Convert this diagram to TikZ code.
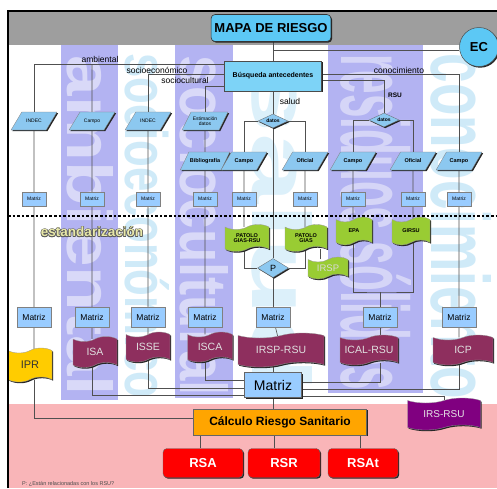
\documentclass[tikz,border=0pt]{standalone}
\usepackage{fontspec}
\setmainfont{Liberation Sans}
\usetikzlibrary{shapes.geometric,shapes.symbols,shadows}
\pgfdeclarelayer{bg}
\pgfdeclarelayer{mid}
\pgfsetlayers{bg,mid,main}
\definecolor{hdrgray}{HTML}{9E9E9E}
\definecolor{lav}{HTML}{B3B3F2}
\definecolor{pinkbg}{HTML}{F9B5B8}
\definecolor{boxblue}{HTML}{99CCFF}
\definecolor{titleblue}{HTML}{5CC8F5}
\definecolor{parblue}{HTML}{8CC8F0}
\definecolor{lime}{HTML}{99CC33}
\definecolor{maroon}{HTML}{8E2F5E}
\definecolor{purp}{HTML}{800080}
\definecolor{gold}{HTML}{FFCC00}
\definecolor{orng}{HTML}{FFA500}
\definecolor{wmblue}{HTML}{A8DAF4}
\definecolor{linec}{HTML}{505050}
\definecolor{palegold}{HTML}{E8E8A8}
\newcommand{\fs}[1]{\fontsize{#1}{#1}\selectfont}
\begin{document}
\begin{tikzpicture}[x=1pt,y=-1pt,
  shad/.style={drop shadow={shadow xshift=1.2pt,shadow yshift=-1.2pt,fill=black!85,opacity=1}},
  conn/.style={draw=linec, line width=0.6pt},
  parbox/.style={trapezium, trapezium left angle=62, trapezium right angle=118, trapezium stretches=true, fill=parblue, draw=black!50, line width=0.3pt, minimum height=18pt, minimum width=46pt, inner xsep=1pt, inner ysep=5.5pt, align=center, font=\fs{5}, shad},
  parboxb/.style={parbox, font=\bfseries\fs{5.5}},
  smx/.style={rectangle, fill=boxblue, draw=black!50, line width=0.3pt, minimum width=24pt, minimum height=14pt, inner sep=0pt, font=\fs{5}, shad},
  mdx/.style={smx, minimum width=34pt, minimum height=20pt, font=\fs{8.5}},
  dia/.style={diamond, aspect=2, fill=parblue, draw=black!60, line width=0.3pt, inner sep=0pt, minimum width=30pt, minimum height=14pt, font=\bfseries\fs{5}, shad},
  flag/.style={tape, draw=black!40, line width=0.3pt, inner sep=1pt, align=center, shad},
  grn/.style={flag, fill=lime, font=\bfseries\fs{5.5}},
  mar/.style={flag, fill=maroon, text=white!88!black, font=\fs{10.5}},
  lbl/.style={font=\fs{8.5}, inner sep=0pt},
  redbox/.style={rectangle, rounded corners=4pt, fill=red, draw=black!60, text=white, font=\bfseries\fs{13}, minimum height=29pt, shad},
  wm/.style={rotate=-90, inner sep=0pt}
]
\useasboundingbox (0,0) rectangle (497,488);

% ---------- background ----------
\begin{pgfonlayer}{bg}
\fill[white] (0,0) rectangle (497,488);
\fill[hdrgray] (8,11) rectangle (497,45);
\fill[lav] (61,45) rectangle (118,400);
\fill[lav] (175,45) rectangle (233,398);
\fill[lav] (328,45) rectangle (423,393);
\fill[pinkbg] (8,404) rectangle (497,488);
\node[wm, text=white, opacity=0.5] (wamb) at (90,226) {\resizebox{340pt}{46pt}{\bfseries ambiental}};
\node[wm, text=wmblue, opacity=0.55] (wsoc) at (147,226) {\resizebox{345pt}{44pt}{\bfseries socioeconómico}};
\node[wm, text=white, opacity=0.5] (wscu) at (204,226) {\resizebox{340pt}{48pt}{\bfseries sociocultural}};
\node[wm, text=wmblue, opacity=0.4] (wsal) at (282,228) {\resizebox{330pt}{60pt}{\bfseries salud}};
\node[wm, text=white, opacity=0.45] (wres) at (376,222) {\resizebox{335pt}{70pt}{\bfseries residuos sólidos}};
\node[wm, text=wmblue, opacity=0.55] (wcon) at (461,226) {\resizebox{345pt}{60pt}{\bfseries conocimiento}};
\end{pgfonlayer}

% ---------- header ----------
\node[rectangle, rounded corners=4pt, fill=titleblue, draw=black!80, line width=0.6pt, minimum width=114pt, minimum height=27pt, font=\bfseries\fs{13}, shad] (MAPA) at (271,28) {MAPA DE RIESGO};
\node[circle, fill=titleblue, draw=black!70, line width=0.5pt, minimum size=39pt, inner sep=0pt, font=\bfseries\fs{13}, shad] (EC) at (479,47) {EC};
\node[rectangle, fill=titleblue!80!white, draw=black!70, line width=0.5pt, minimum width=97pt, minimum height=30pt, font=\bfseries\fs{7}, shad] (BUS) at (273,76) {Búsqueda antecedentes};

% ---------- labels ----------
\node[lbl] (lamb) at (100,59) {ambiental};
\node[lbl] (lsoc) at (157,70) {socioeconómico};
\node[lbl] (lscu) at (185,80) {sociocultural};
\node[lbl] (lsal) at (290,101) {salud};
\node[lbl] (lcon) at (399,70) {conocimiento};
\node[lbl, font=\bfseries\fs{6.5}] (lrsu) at (395,95) {RSU};

% ---------- parallelograms ----------
\node[parbox] (p1) at (34,121) {INDEC};
\node[parbox] (p2) at (92,121) {Campo};
\node[parbox] (p3) at (148,121) {INDEC};
\node[parbox, inner ysep=3.5pt] (p4) at (205,121) {Estimación\\datos};
\node[parboxb] (bib) at (205,161) {Bibliografía};
\node[parboxb] (cS) at (244,161) {Campo};
\node[parboxb] (oS) at (305,161) {Oficial};
\node[parboxb] (cR) at (353,161) {Campo};
\node[parboxb] (oR) at (413,161) {Oficial};
\node[parboxb] (cC) at (459,161) {Campo};

% ---------- diamonds ----------
\node[dia] (dS) at (273,121) {datos};
\node[dia] (dR) at (384,120) {datos};
\node[dia, minimum width=31pt, minimum height=19pt, font=\fs{9}] (P) at (273,268) {P};

% ---------- small Matriz ----------
\node[smx] (m1) at (34,199) {Matriz};
\node[smx] (m2) at (92,199) {Matriz};
\node[smx] (m3) at (148,199) {Matriz};
\node[smx] (m4) at (205,199) {Matriz};
\node[smx] (m5) at (244,199) {Matriz};
\node[smx] (m6) at (305,199) {Matriz};
\node[smx] (m7) at (353,199) {Matriz};
\node[smx] (m8) at (413,199) {Matriz};
\node[smx] (m9) at (459,199) {Matriz};

% ---------- green flags ----------
\node[grn, minimum width=44pt, minimum height=27pt] (patR) at (247,238) {PATOLO\\GIAS-RSU};
\node[grn, minimum width=42pt, minimum height=27pt] (pat) at (306,238) {PATOLO\\GIAS};
\node[grn, minimum width=36pt, minimum height=28pt] (epa) at (354,231) {EPA};
\node[grn, minimum width=38pt, minimum height=28pt] (girsu) at (411,231) {GIRSU};
\node[flag, fill=lime, minimum width=40pt, minimum height=22pt, font=\fs{9.5}, text=black!15] (irsp) at (328,268) {IRSP};

% ---------- estandarización ----------
\foreach \dx/\dy in {-0.7/0,0.7/0,0/-0.7,0/0.7,-0.5/-0.5,0.5/0.5,-0.5/0.5,0.5/-0.5}
  \node[text=black!65, font=\bfseries\fs{13.5}] at (92+\dx,232+\dy) {estandarización};
\node[text=palegold, font=\bfseries\fs{13.5}] (est) at (92,232) {estandarización};

% ---------- medium Matriz ----------
\node[mdx] (M1) at (34,317) {Matriz};
\node[mdx] (M2) at (92,317) {Matriz};
\node[mdx] (M3) at (148,317) {Matriz};
\node[mdx] (M4) at (205,317) {Matriz};
\node[mdx] (M5) at (273,317) {Matriz};
\node[mdx] (M6) at (380,317) {Matriz};
\node[mdx] (M7) at (459,317) {Matriz};

% ---------- index flags ----------
\node[flag, fill=gold, text=black!80, font=\fs{11}, minimum width=44pt, minimum height=34pt] (IPR) at (30,365) {IPR};
\node[mar, minimum width=44pt, minimum height=31pt] (ISA) at (95,352) {ISA};
\node[mar, minimum width=44pt, minimum height=30pt] (ISSE) at (148,347) {ISSE};
\node[mar, minimum width=45pt, minimum height=30pt] (ISCA) at (210,347) {ISCA};
\node[mar, minimum width=86pt, minimum height=34pt] (IRSPRSU) at (281,350) {IRSP-RSU};
\node[mar, minimum width=58pt, minimum height=30pt] (ICAL) at (369,350) {ICAL-RSU};
\node[mar, minimum width=60pt, minimum height=30pt] (ICP) at (463,350) {ICP};
\node[flag, fill=purp, text=white!90!black, font=\fs{10}, minimum width=73pt, minimum height=32pt] (IRS) at (444,414) {IRS-RSU};

% ---------- bottom ----------
\node[rectangle, fill=boxblue, draw=black!60, line width=0.5pt, minimum width=57pt, minimum height=25pt, font=\fs{14}, shad] (BM) at (273,385) {Matriz};
\node[rectangle, fill=orng, draw=black!60, line width=0.5pt, minimum width=173pt, minimum height=26pt, font=\bfseries\fs{12}, shad] (CR) at (280,422) {Cálculo Riesgo Sanitario};
\node[redbox, minimum width=80pt] (RSA) at (203,463) {RSA};
\node[redbox, minimum width=72pt] (RSR) at (284,463) {RSR};
\node[redbox, minimum width=70pt] (RSAt) at (363,463) {RSAt};
\node[anchor=west, font=\fs{5.5}, text=black!70, inner sep=0pt] (fn) at (22,484) {P: ¿Están relacionadas con los RSU?};

% ---------- connectors ----------
\begin{pgfonlayer}{mid}
\coordinate (ecj) at (273,50);
\coordinate (amb) at ([yshift=-4pt]BUS.north west);
\coordinate (soc) at ([yshift=-14pt]BUS.north west);
\coordinate (scu) at ([yshift=5pt]BUS.south west);
\coordinate (con) at ([yshift=-14pt]BUS.north east);
\coordinate (rsu) at ([yshift=11pt]BUS.south east);
\coordinate (rj) at (380,292);
\coordinate (dl) at (8,216);
\coordinate (dr) at (497,216);
\draw[conn] (BUS.north) -- (BUS.north |- MAPA.south);
\draw[conn] (ecj) -- (ecj -| EC.west);
\draw[conn] (amb) -| (p1);
\draw[conn] (p2.north) -- (p2 |- amb);
\draw[conn] (soc) -| (p3);
\draw[conn] (scu) -| (p4);
\draw[conn] (BUS) -- (dS);
\draw[conn] (dS.west) -| (cS);
\draw[conn] (dS.east) -| (oS);
\draw[conn] (dS) -- (P);
\draw[conn] (rsu) -| (dR);
\draw[conn] (con) -| (cC);
\draw[conn] (dR.west) -| (cR);
\draw[conn] (dR.east) -| (oR);
% columns
\draw[conn] (p1) -- (m1) -- (M1) -- (M1 |- IPR.north);
\draw[conn] (p2) -- (m2) -- (M2) -- (M2 |- ISA.north);
\draw[conn] (p3) -- (m3) -- (M3) -- (ISSE);
\draw[conn] (p4) -- (bib) -- (m4) -- (M4) -- (M4 |- ISCA.north);
\draw[conn] (cS) -- (m5) -- (m5 |- patR.north);
\draw[conn] (oS) -- (m6) -- (m6 |- pat.north);
\draw[conn] (cR) -- (m7) -- (m7 |- epa.north);
\draw[conn] (oR) -- (m8) -- (m8 |- girsu.north);
\draw[conn] (cC) -- (m9) -- (M7) -- (M7 |- ICP.north);
\draw[conn] (m5 |- patR.south) |- (P.west);
\draw[conn] (m6 |- pat.south) |- (P.east);
\draw[conn] ([xshift=-8pt]irsp.north) -- ([xshift=-8pt]irsp.north |- pat.south);
\draw[conn] (P) -- (M5);
\draw[conn] (m7 |- epa.south) |- (rj) -| (m8 |- girsu.south);
\draw[conn] (rj) -- (M6);
\draw[conn] (M5) -- (IRSPRSU);
\draw[conn] (M6) -- (M6 |- ICAL.north);
% to big Matriz
\draw[conn] (BM.north) -- (BM.north |- IRSPRSU.south);
\draw[conn] (M2 |- ISA.south) |- ([yshift=-10pt]BM.west);
\draw[conn] (ISSE.south) |- ([yshift=-3pt]BM.west);
\draw[conn] (M4 |- ISCA.south) |- ([yshift=5pt]BM.west);
\draw[conn] (M6 |- ICAL.south) |- ([yshift=3pt]BM.east);
\draw[conn] (M7 |- ICP.south) |- ([yshift=-4pt]BM.east);
\draw[conn] ([yshift=-11pt]BM.east) -| (IRS.north);
\draw[conn] (BM.south) -- (BM.south |- CR.north);
\draw[conn] (M1 |- IPR.south) |- ([yshift=4pt]CR.west);
\draw[conn] ([xshift=-3pt]RSA.north) -- ([xshift=-3pt]RSA.north |- CR.south);
\draw[conn] ([xshift=-10pt]RSR.north) -- ([xshift=-10pt]RSR.north |- CR.south);
\draw[conn] ([xshift=-3pt]RSAt.north) -- ([xshift=-3pt]RSAt.north |- CR.south);
\draw[line width=2.6pt, dash pattern=on 2.6pt off 2pt] (dl) -- (dr);
\end{pgfonlayer}

% ---------- frame ----------
\coordinate (fbl) at (8,488);
\coordinate (ftl) at (8,11);
\coordinate (ftr) at (497,11);
\draw[line width=2pt] (fbl) -- (ftl) -- (ftr);
\end{tikzpicture}
\end{document}
